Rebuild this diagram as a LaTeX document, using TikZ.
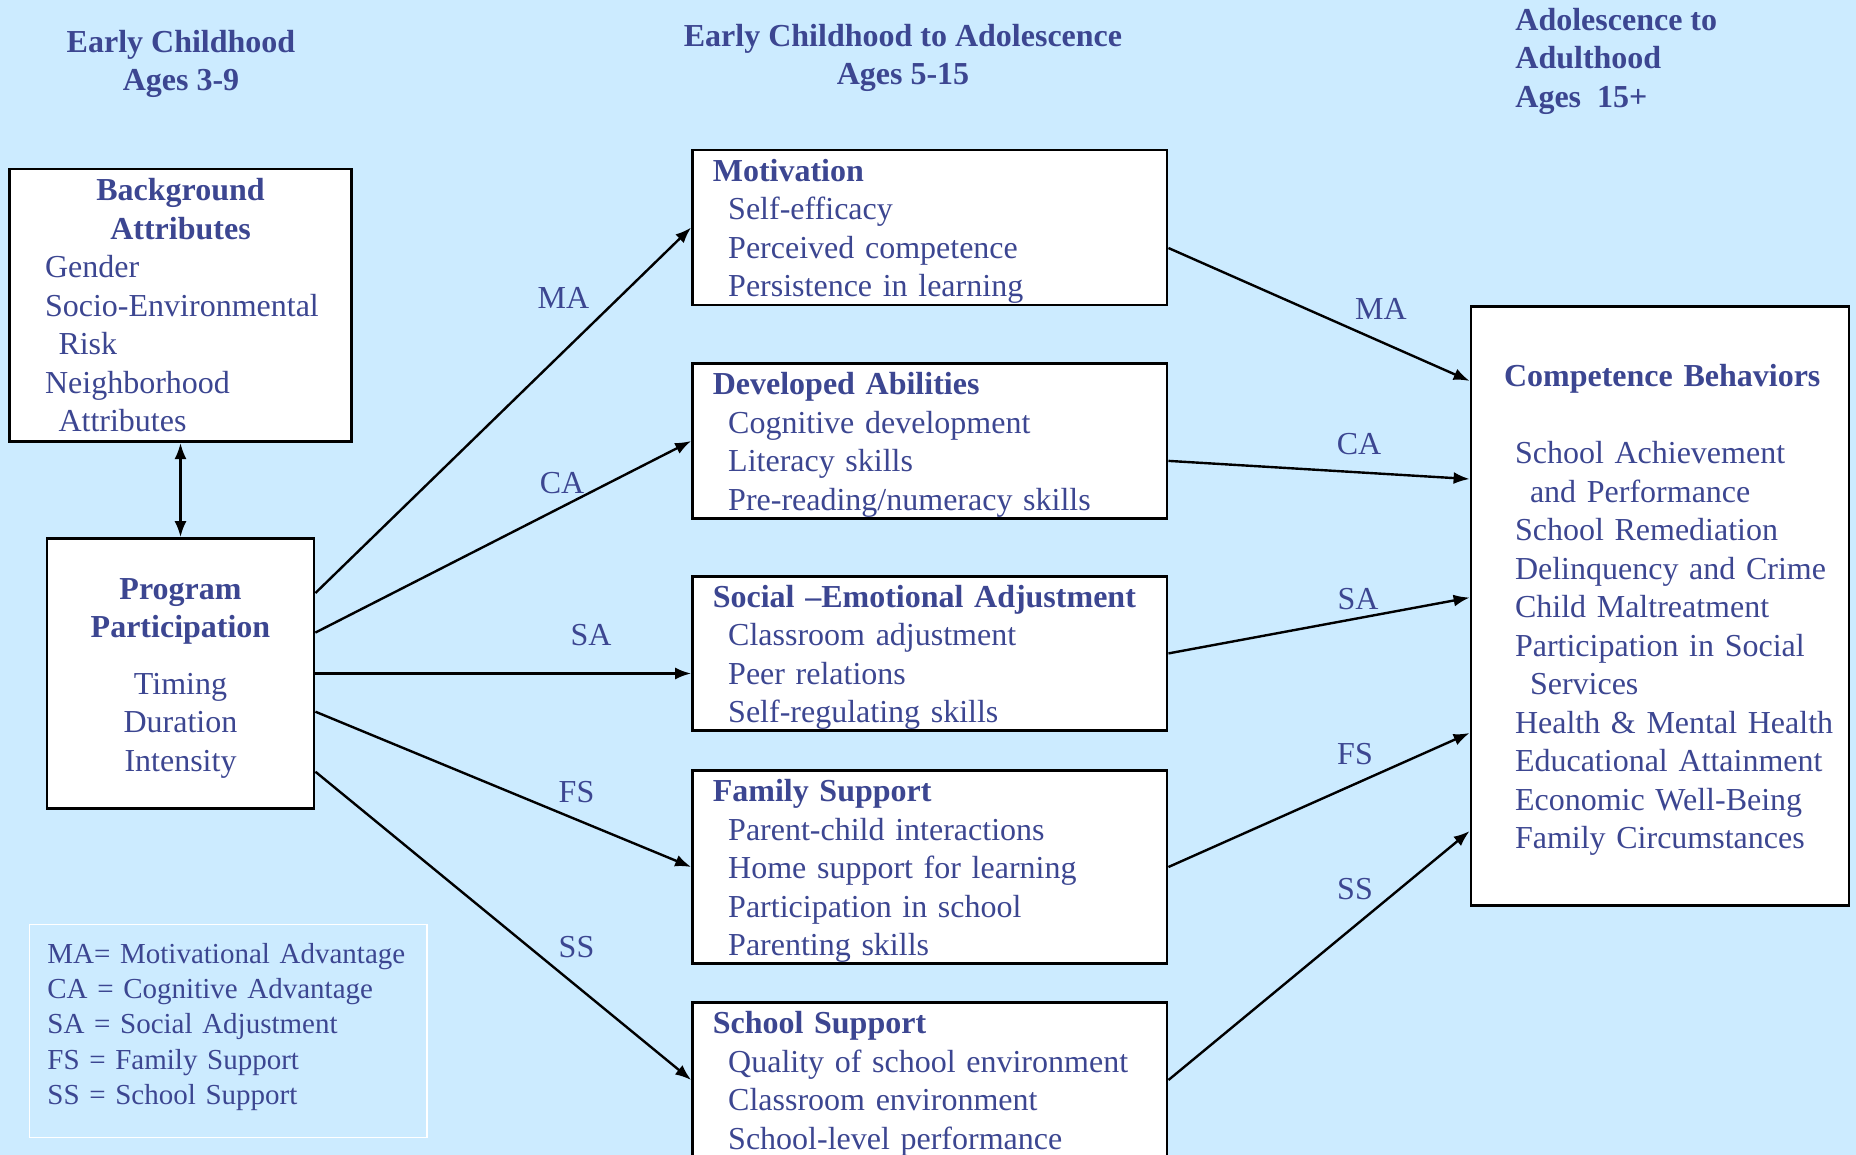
\documentclass[tikz,border=0pt]{standalone}
\usepackage{fontspec}
\setmainfont{Liberation Serif}
\usepackage{tikz}
\usetikzlibrary{positioning,arrows.meta,calc}
\definecolor{bgblue}{RGB}{204,235,255}
\definecolor{inkblue}{RGB}{60,70,145}
\newcommand{\basefont}{\fontsize{16}{19.25}\selectfont}
\newcommand{\itm}{\hspace*{7.7pt}}
\newcommand{\topstrut}{\rule{0pt}{15pt}}
\tikzstyle{box}=[%
      rectangle, draw=black, line width=1.4pt, fill=white, text=inkblue, font=\basefont,
      inner sep=0pt, align=left, text width=217pt, minimum width=237.25pt, minimum height=77.5pt
]
\tikzstyle{stage}=[%
      box, execute at begin node={\topstrut}
]
\tikzstyle{head}=[%
      text=inkblue, font=\basefont\bfseries, align=center, inner sep=0pt
]
\tikzstyle{tag}=[%
      text=inkblue, font=\basefont, inner sep=0pt
]
\tikzstyle{flow}=[%
      ->, line width=1.2pt
]

\begin{document}
\begin{tikzpicture}[x=0.5pt, y=-0.5pt,
    >={Latex[length=8pt,width=6pt]}
  ]
    \path[use as bounding box, fill=bgblue] (0,0) rectangle (1856,1155);

    % age bands
    \node[head]                     (h1) at (181,64)  {Early Childhood\\Ages 3-9};
    \node[head]                     (h2) at (903,58)  {Early Childhood to Adolescence\\Ages 5-15};
    \node[head, align=left, anchor=west] (h3) at (1515,61) {Adolescence to\\Adulthood\\Ages~~15+};

    % left column
    \node[box, text width=151pt, minimum width=171pt, minimum height=136.3pt] (bg) at (180.5,305.3)
      {\makebox[151pt]{\bfseries Background}\\
       \makebox[151pt]{\bfseries Attributes}\\
       \hspace*{7.8pt}Gender\\
       \hspace*{7.8pt}Socio-Environmental\\
       \hspace*{14.5pt}Risk\\
       \hspace*{7.8pt}Neighborhood\\
       \hspace*{14.5pt}Attributes};
    \node[box, align=center, text width=, minimum width=133.5pt, minimum height=135pt] (pp) at (180.5,673.5)
      {{\bfseries Program}\topstrut\\{\bfseries Participation}\\[9pt]Timing\\Duration\\Intensity};

    % middle column
    \node[stage] (mot) at (929.8,227.5)
      {{\bfseries Motivation}\\
       \itm Self-efficacy\\
       \itm Perceived competence\\
       \itm Persistence in learning};
    \node[stage] (dev) at (929.8,441)
      {{\bfseries Developed Abilities}\\
       \itm Cognitive development\\
       \itm Literacy skills\\
       \itm Pre-reading/numeracy skills};
    \node[stage, minimum height=77pt] (soc) at (929.8,653.4)
      {{\bfseries Social –Emotional Adjustment}\\
       \itm Classroom adjustment\\
       \itm Peer relations\\
       \itm Self-regulating skills};
    \node[stage, minimum height=96.5pt] (fam) at (929.8,867)
      {{\bfseries Family Support}\\
       \itm Parent-child interactions\\
       \itm Home support for learning\\
       \itm Participation in school\\
       \itm Parenting skills};
    \node[stage] (sch) at (929.8,1080)
      {{\bfseries School Support}\\
       \itm Quality of school environment\\
       \itm Classroom environment\\
       \itm School-level performance};

    % right column
    \node[stage, text width=185pt, minimum width=189pt, minimum height=299.5pt] (cb) at (1660,606)
      {\hspace*{14.5pt}{\bfseries Competence Behaviors}\\[19.25pt]
       \hspace*{20pt}School Achievement\\
       \hspace*{27.5pt}and Performance\\
       \hspace*{20pt}School Remediation\\
       \hspace*{20pt}Delinquency and Crime\\
       \hspace*{20pt}Child Maltreatment\\
       \hspace*{20pt}Participation in Social\\
       \hspace*{27.5pt}Services\\
       \hspace*{20pt}Health \& Mental Health\\
       \hspace*{20pt}Educational Attainment\\
       \hspace*{20pt}Economic Well-Being\\
       \hspace*{20pt}Family Circumstances};

    % key
    \node[box, fill=none, draw=white, line width=0.8pt, font=\fontsize{14.5}{17.6}\selectfont,
          text width=180.9pt, minimum width=198.7pt, minimum height=106.5pt] (key) at (228.3,1031)
      {MA= Motivational Advantage\\
       CA = Cognitive Advantage\\
       SA = Social Adjustment\\
       FS = Family Support\\
       SS = School Support\par\vspace*{4pt}};

    % paths
    \draw[flow, <->] (bg.south) -- (pp.north);
    \path[flow] ($(pp.north east)!0.205!(pp.south east)$) edge (mot.west)
          ($(pp.north east)!0.35!(pp.south east)$)  edge (dev.west)
          (pp.east)                                 edge (pp.east -| soc.west)
          ($(pp.north east)!0.64!(pp.south east)$)  edge (fam.west)
          ($(pp.north east)!0.86!(pp.south east)$)  edge (sch.west)
          ($(mot.north east)!0.63!(mot.south east)$) edge ($(cb.north west)!0.126!(cb.south west)$)
          ($(dev.north east)!0.626!(dev.south east)$) edge ($(cb.north west)!0.289!(cb.south west)$)
          (soc.east) edge ($(cb.north west)!0.486!(cb.south west)$)
          (fam.east) edge ($(cb.north west)!0.711!(cb.south west)$)
          (sch.east) edge ($(cb.north west)!0.874!(cb.south west)$);

    \node[tag] (ma1) at (563.5,298) {MA};
    \node[tag] (ca1) at (562,483)   {CA};
    \node[tag] (sa1) at (591,635.5) {SA};
    \node[tag] (fs1) at (576.5,792) {FS};
    \node[tag] (ss1) at (576.5,947) {SS};
    \node[tag] (ma2) at (1381,309)  {MA};
    \node[tag] (ca2) at (1359,444)  {CA};
    \node[tag] (sa2) at (1358,599)  {SA};
    \node[tag] (fs2) at (1355,754)  {FS};
    \node[tag] (ss2) at (1355,889)  {SS};
\end{tikzpicture}
\end{document}
